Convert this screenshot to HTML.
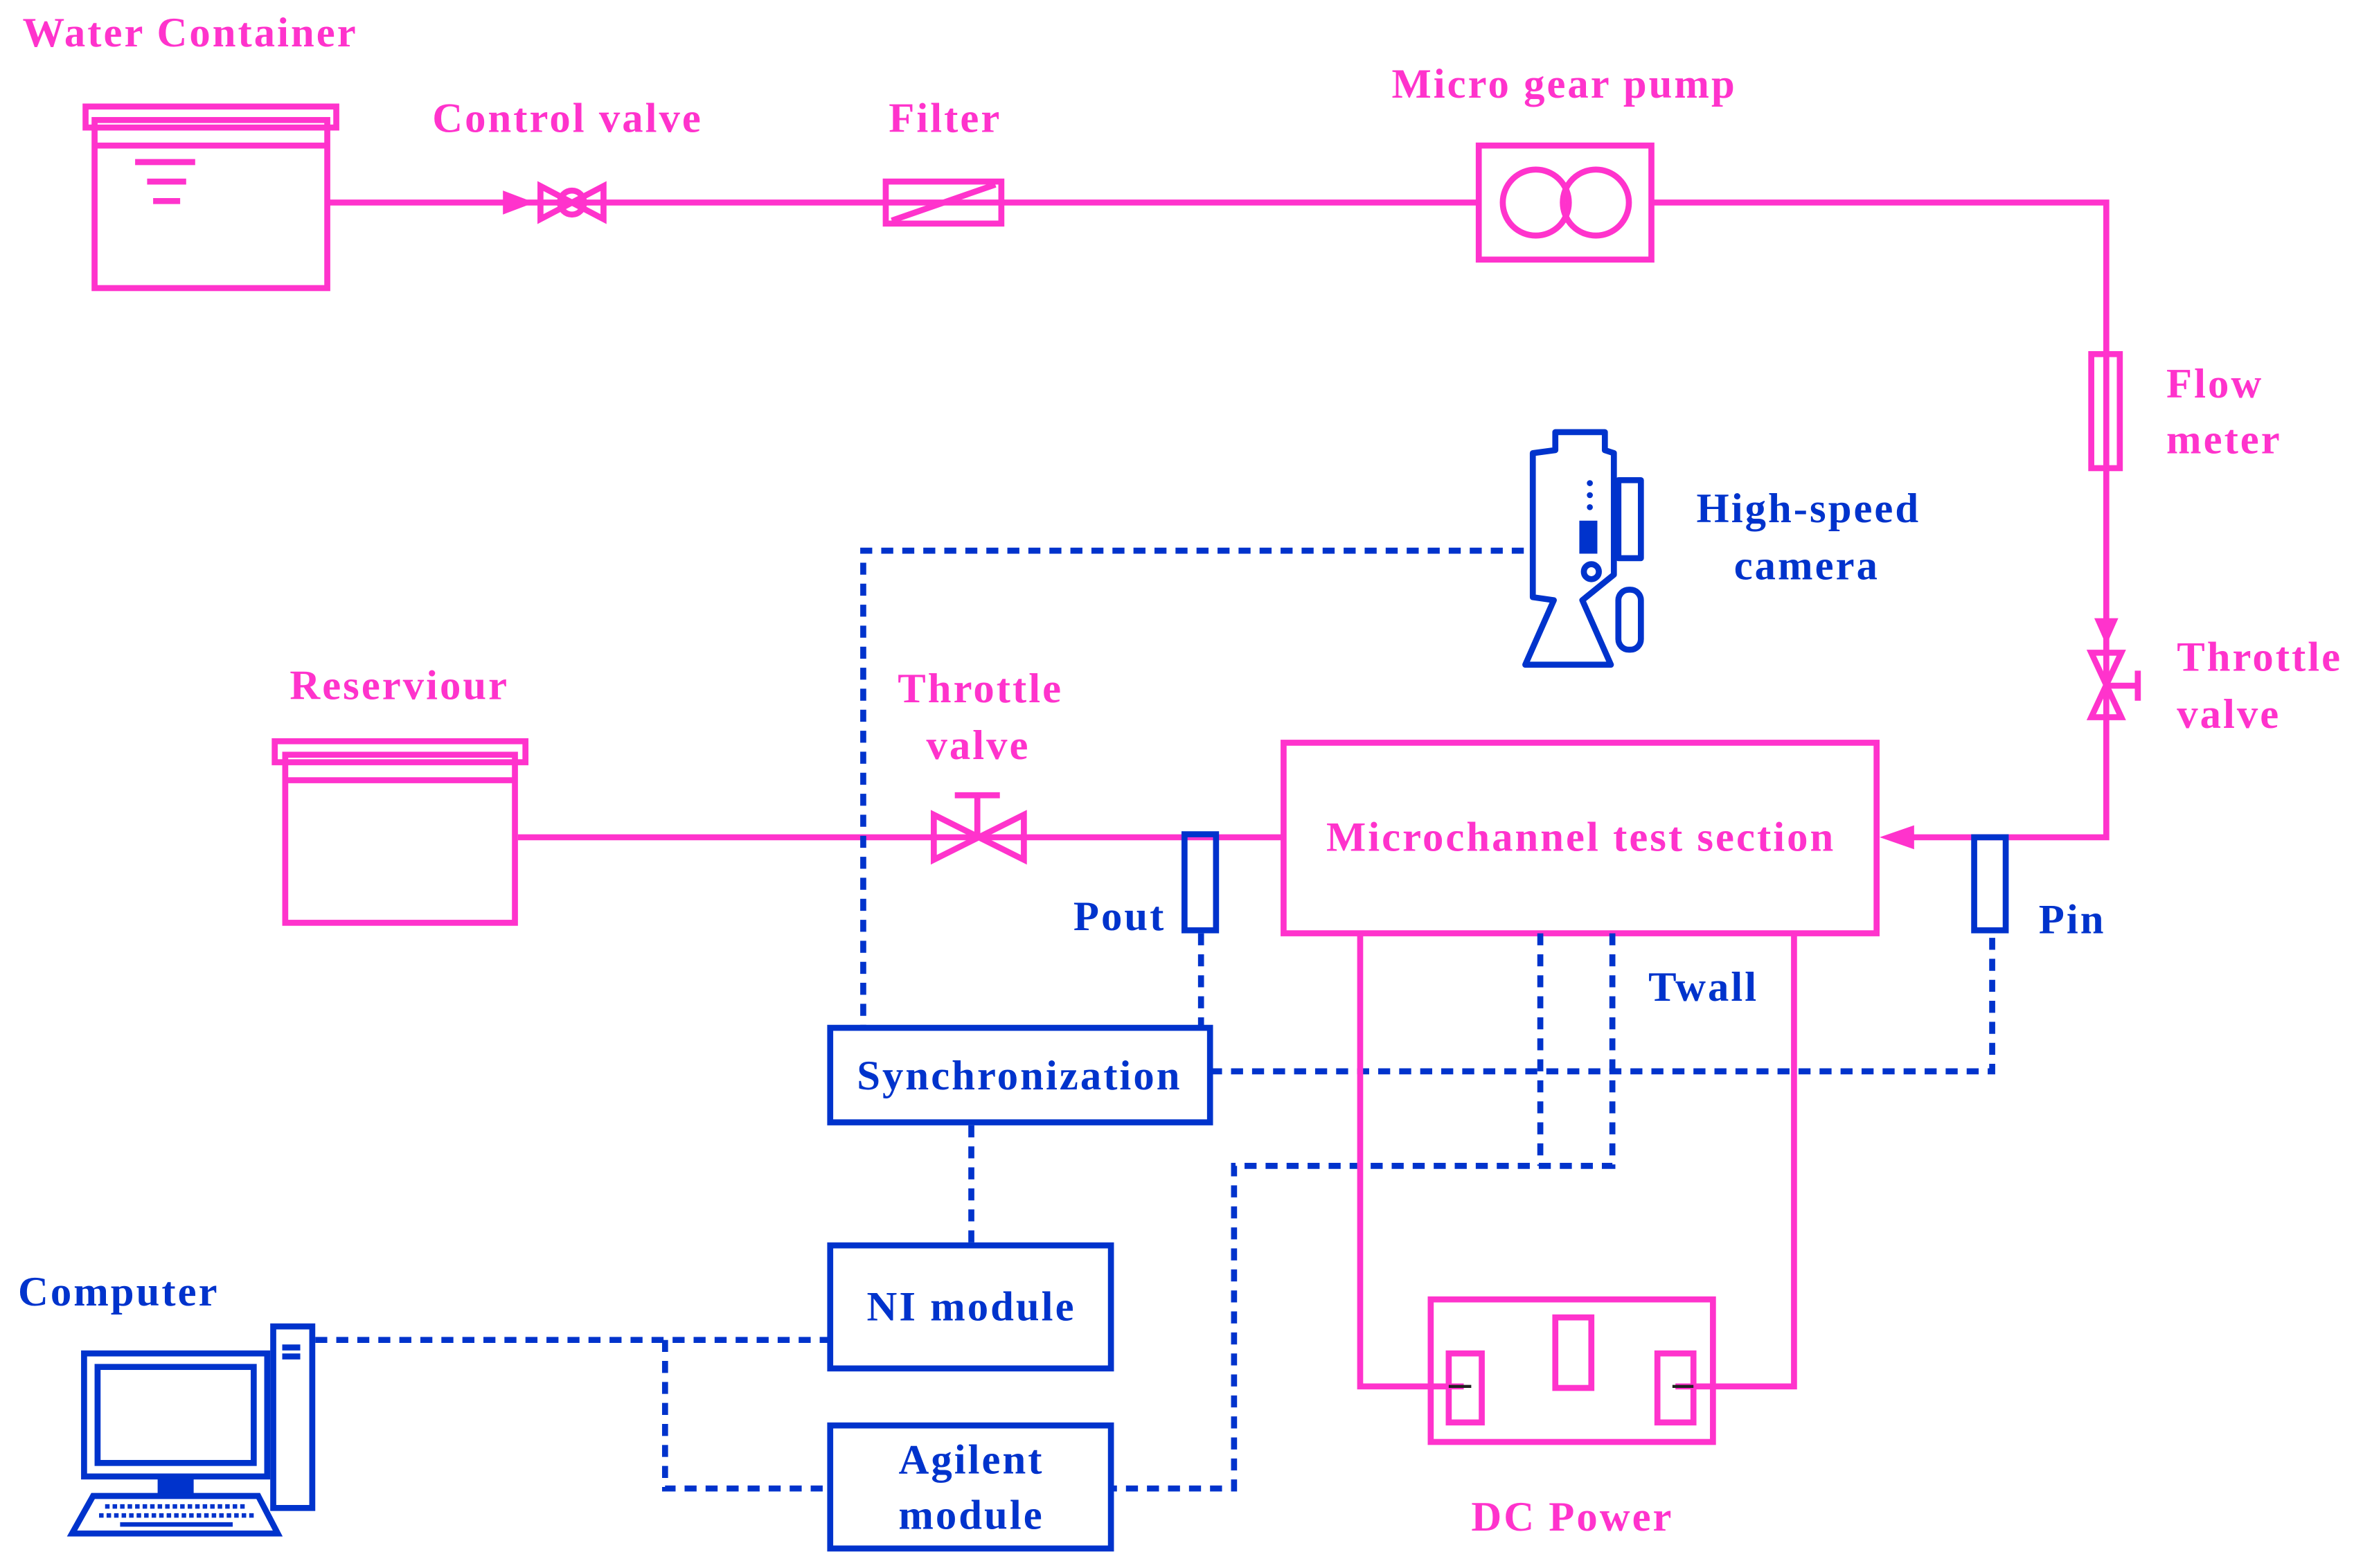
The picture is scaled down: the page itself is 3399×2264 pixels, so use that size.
<!DOCTYPE html>
<html><head><meta charset="utf-8"><style>
html,body{margin:0;padding:0;background:#fff;}
svg{display:block;}
.p{fill:none;stroke:#ff33cc;stroke-width:4;}
.b{fill:none;stroke:#0033cc;stroke-width:4;}
.d{fill:none;stroke:#0033cc;stroke-width:4;stroke-dasharray:8 6;}
.tp{fill:#ff33cc;font-family:"Liberation Serif",serif;font-weight:bold;font-size:28px;letter-spacing:1.4px;}
.tb{fill:#0033cc;font-family:"Liberation Serif",serif;font-weight:bold;font-size:28px;letter-spacing:1.4px;}
</style></head><body>
<svg width="3399" height="2264" viewBox="0 0 1568 1045" preserveAspectRatio="none" xmlns="http://www.w3.org/2000/svg">
<rect width="1568" height="1045" fill="#fff"/>
<text class="tp" x="15" y="31">Water Container</text>
<rect class="p" x="63" y="80" width="155" height="112"/>
<rect class="p" x="57" y="71" width="167" height="14"/>
<line class="p" x1="63" y1="97" x2="218" y2="97" stroke-width="2"/>
<line class="p" x1="90" y1="108" x2="130" y2="108" stroke-width="3"/>
<line class="p" x1="98" y1="121" x2="124" y2="121" stroke-width="3"/>
<line class="p" x1="102" y1="134" x2="120" y2="134" stroke-width="3"/>
<line class="p" x1="218" y1="135" x2="985" y2="135"/>
<polygon points="335,127 356,135 335,143" fill="#ff33cc"/>
<text class="tp" x="288" y="88">Control valve</text>
<polygon class="p" points="360,124 402,146 402,124 360,146"/>
<circle class="p" cx="381" cy="135" r="8" fill="#fff"/>
<text class="tp" x="592" y="88">Filter</text>
<rect class="p" x="590" y="121" width="77" height="28" fill="#fff"/>
<line class="p" x1="594" y1="147" x2="663" y2="123" stroke-width="3"/>
<text class="tp" x="927" y="65">Micro gear pump</text>
<rect class="p" x="985" y="97" width="115" height="76" fill="#fff"/>
<circle class="p" cx="1023" cy="135" r="22"/>
<circle class="p" cx="1063" cy="135" r="22"/>
<polyline class="p" points="1100,135 1403,135 1403,558 1262,558"/>
<polygon points="1252,558 1275,550 1275,566" fill="#ff33cc"/>
<rect class="p" x="1393" y="236" width="19" height="76" fill="#fff"/>
<text class="tp" x="1443" y="265">Flow</text>
<text class="tp" x="1443" y="302">meter</text>
<polygon points="1395,412 1403,430 1411,412" fill="#ff33cc"/>
<polygon class="p" points="1393,435 1413,435 1393,478 1413,478" fill="#fff"/>
<line class="p" x1="1403" y1="457" x2="1424" y2="457"/>
<line class="p" x1="1424" y1="447" x2="1424" y2="467"/>
<text class="tp" x="1450" y="447">Throttle</text>
<text class="tp" x="1450" y="485">valve</text>
<rect class="p" x="855" y="495" width="395" height="127"/>
<text class="tp" x="1053" y="567" text-anchor="middle">Microchannel test section</text>
<rect class="b" x="1315" y="558" width="21" height="62" fill="#fff"/>
<text class="tb" x="1358" y="622">Pin</text>
<line class="p" x1="345" y1="558" x2="855" y2="558"/>
<rect class="b" x="789" y="556" width="21" height="64" fill="#fff"/>
<text class="tb" x="715" y="620">Pout</text>
<polygon class="p" points="622,543 682,573 682,543 622,573" fill="#fff"/>
<line class="p" x1="651" y1="558" x2="651" y2="530"/>
<line class="p" x1="636" y1="530" x2="666" y2="530"/>
<text class="tp" x="598" y="468">Throttle</text>
<text class="tp" x="617" y="506">valve</text>
<text class="tp" x="193" y="466">Reserviour</text>
<rect class="p" x="190" y="503" width="153" height="112"/>
<rect class="p" x="183" y="494" width="167" height="14"/>
<line class="p" x1="190" y1="520" x2="343" y2="520" stroke-width="2"/>
<g class="b" stroke-width="6" stroke-linejoin="round">
<path d="M1036,300 L1036,288 L1069,288 L1069,300 L1075,302 L1075,383 L1054,400 L1073,443 L1016,443 L1035,400 L1021,398 L1021,302 Z"/>
<rect x="1078" y="320" width="15" height="52"/>
<rect x="1078" y="393" width="15" height="40" rx="7"/>
</g>
<rect x="1052" y="347" width="12" height="22" fill="#0033cc"/>
<circle cx="1060" cy="381" r="5" class="b" stroke-width="3"/>
<circle cx="1059" cy="322" r="2" fill="#0033cc"/><circle cx="1059" cy="330" r="2" fill="#0033cc"/><circle cx="1059" cy="338" r="2" fill="#0033cc"/>
<text class="tb" x="1130" y="348">High-speed</text>
<text class="tb" x="1155" y="386">camera</text>
<polyline class="d" points="1015,367 575,367 575,685"/>
<line class="d" x1="800" y1="622" x2="800" y2="685"/>
<polyline class="d" points="806,714 1327,714 1327,622"/>
<polyline class="d" points="1026,622 1026,777"/>
<polyline class="d" points="1074,622 1074,777 822,777 822,992 740,992"/>
<line class="d" x1="647" y1="750" x2="647" y2="830"/>
<polyline class="d" points="210,893 553,893"/>
<polyline class="d" points="443,893 443,992 553,992"/>
<text class="tb" x="1098" y="667">Twall</text>
<rect class="b" x="553" y="685" width="253" height="63" fill="#fff"/>
<text class="tb" x="679" y="726" text-anchor="middle">Synchronization</text>
<rect class="b" x="553" y="830" width="187" height="82" fill="#fff"/>
<text class="tb" x="647" y="880" text-anchor="middle">NI module</text>
<rect class="b" x="553" y="950" width="187" height="82" fill="#fff"/>
<text class="tb" x="647" y="982" text-anchor="middle">Agilent</text>
<text class="tb" x="647" y="1019" text-anchor="middle">module</text>
<polyline class="p" points="906,622 906,924 975,924"/>
<polyline class="p" points="1195,622 1195,924 1116,924"/>
<rect class="p" x="953" y="866" width="188" height="95"/>
<rect class="p" x="965" y="902" width="22" height="46"/>
<rect class="p" x="1036" y="878" width="24" height="47"/>
<rect class="p" x="1104" y="902" width="24" height="46"/>
<line x1="965" y1="924" x2="980" y2="924" stroke="#222" stroke-width="2"/>
<line x1="1114" y1="924" x2="1128" y2="924" stroke="#222" stroke-width="2"/>
<text class="tp" x="980" y="1020">DC Power</text>
<text class="tb" x="12" y="870">Computer</text>
<rect class="b" x="182" y="884" width="26" height="121" fill="#fff"/>
<line class="b" x1="188" y1="898" x2="200" y2="898" stroke-width="2"/>
<line class="b" x1="188" y1="904" x2="200" y2="904" stroke-width="2"/>
<rect class="b" x="56" y="902" width="122" height="82" fill="#fff"/>
<rect class="b" x="65" y="911" width="104" height="64" stroke-width="3"/>
<rect x="105" y="984" width="24" height="12" fill="#0033cc"/>
<polygon class="b" points="62,997 172,997 185,1022 48,1022" fill="#fff"/>
<line x1="70" y1="1004" x2="165" y2="1004" stroke="#0033cc" stroke-width="3" stroke-dasharray="3 2"/>
<line x1="66" y1="1010" x2="170" y2="1010" stroke="#0033cc" stroke-width="3" stroke-dasharray="3 2"/>
<line x1="80" y1="1016" x2="155" y2="1016" stroke="#0033cc" stroke-width="3"/>
</svg>
</body></html>
